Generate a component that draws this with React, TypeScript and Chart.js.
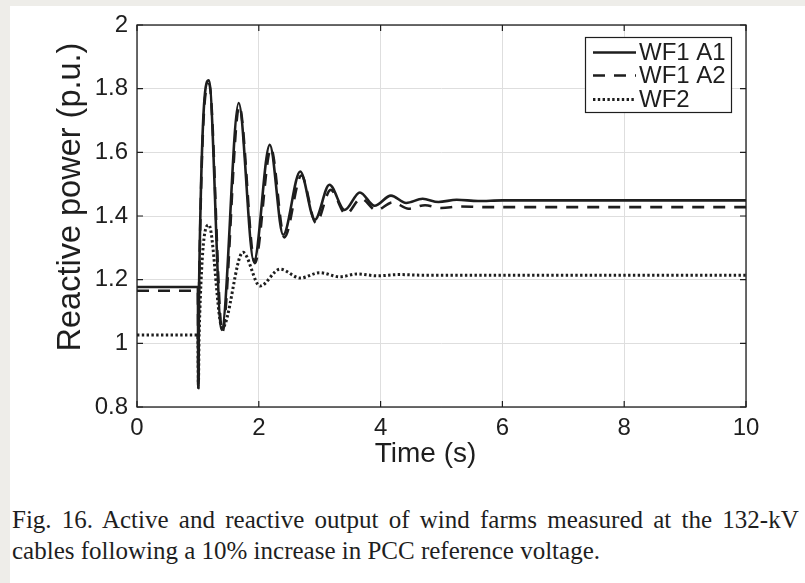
import React, { useEffect, useRef } from "react";
import { Chart, registerables } from "chart.js";

Chart.register(...registerables);

// ---- data ----
const X_TICKS = [0, 2, 4, 6, 8, 10];
const Y_TICKS = [0.8, 1, 1.2, 1.4, 1.6, 1.8, 2];
const Y_TICK_LABELS = ["0.8", "1", "1.2", "1.4", "1.6", "1.8", "2"];

const SERIES_NAMES = ["WF1 A1", "WF1 A2", "WF2"];

const A1_T = [0, 1.0, 1.006, 1.02, 1.18, 1.39, 1.67, 1.92, 2.18, 2.40, 2.68, 2.92, 3.16, 3.41, 3.66, 3.90, 4.17, 4.42, 4.69, 4.95, 5.25, 5.6, 6.0, 10];
const A1_Q = [1.177, 1.177, 0.86, 1.19, 1.826, 1.042, 1.755, 1.257, 1.624, 1.341, 1.540, 1.388, 1.498, 1.419, 1.474, 1.432, 1.464, 1.441, 1.454, 1.444, 1.451, 1.447, 1.449, 1.449];

const A2_T = [0, 1.0, 1.006, 1.02, 1.185, 1.40, 1.68, 1.935, 2.20, 2.42, 2.70, 2.94, 3.18, 3.43, 3.68, 3.93, 4.20, 4.46, 4.73, 5.0, 5.3, 5.7, 10];
const A2_Q = [1.165, 1.165, 0.86, 1.18, 1.815, 1.035, 1.745, 1.252, 1.612, 1.333, 1.527, 1.378, 1.482, 1.406, 1.455, 1.418, 1.443, 1.423, 1.434, 1.425, 1.430, 1.428, 1.428];

const W2_T = [0, 1.0, 1.008, 1.02, 1.18, 1.40, 1.74, 2.02, 2.35, 2.68, 3.0, 3.33, 3.62, 3.95, 4.3, 4.7, 10];
const W2_Q = [1.026, 1.026, 0.87, 1.03, 1.372, 1.048, 1.286, 1.180, 1.233, 1.205, 1.222, 1.209, 1.218, 1.212, 1.216, 1.214, 1.214];

const X_TITLE = "Time (s)";
const Y_TITLE = "Reactive power (p.u.)";
const CAPTION_1 = "Fig. 16. Active and reactive output of wind farms measured at the 132-kV";
const CAPTION_2 = "cables following a 10% increase in PCC reference voltage.";

const INK = "#1e1e1e";
const SANS = "'Liberation Sans', Arial, Helvetica, sans-serif";

const STYLES = [
  { dash: [] as number[], width: 2.6 },
  { dash: [12, 9], width: 2.6 },
  { dash: [2.4, 2.4], width: 3 },
];

const zip = (t: number[], q: number[]) => t.map((x, i) => ({ x, y: q[i] }));

const framePlugin = {
  id: "frame",
  afterDatasetsDraw(chart: any) {
    const { ctx, chartArea: a, scales } = chart;
    ctx.save();
    // border
    ctx.strokeStyle = INK;
    ctx.lineWidth = 1.3;
    ctx.setLineDash([]);
    ctx.strokeRect(a.left, a.top, a.right - a.left, a.bottom - a.top);
    // inward ticks
    const tl = 6;
    ctx.lineWidth = 1.2;
    ctx.beginPath();
    X_TICKS.forEach((v) => {
      const px = scales.x.getPixelForValue(v);
      ctx.moveTo(px, a.bottom);
      ctx.lineTo(px, a.bottom - tl);
      ctx.moveTo(px, a.top);
      ctx.lineTo(px, a.top + tl);
    });
    Y_TICKS.forEach((v) => {
      const py = scales.y.getPixelForValue(v);
      ctx.moveTo(a.left, py);
      ctx.lineTo(a.left + tl, py);
      ctx.moveTo(a.right, py);
      ctx.lineTo(a.right - tl, py);
    });
    ctx.stroke();

    // legend
    const lx = 585.5, ly = 37.5, lw = 146, lh = 75;
    ctx.fillStyle = "#ffffff";
    ctx.fillRect(lx, ly, lw, lh);
    ctx.strokeStyle = INK;
    ctx.lineWidth = 1.2;
    ctx.strokeRect(lx, ly, lw, lh);
    const rows = [52.5, 75.5, 99.5];
    ctx.font = `24px ${SANS}`;
    ctx.textBaseline = "middle";
    ctx.textAlign = "left";
    SERIES_NAMES.forEach((name, i) => {
      ctx.beginPath();
      ctx.setLineDash(STYLES[i].dash);
      ctx.lineWidth = STYLES[i].width;
      ctx.strokeStyle = INK;
      ctx.moveTo(593, rows[i]);
      ctx.lineTo(636, rows[i]);
      ctx.stroke();
      ctx.setLineDash([]);
      ctx.fillStyle = INK;
      ctx.fillText(name, 639, rows[i] + 1);
    });

    // axis titles
    ctx.fillStyle = INK;
    ctx.textAlign = "center";
    ctx.textBaseline = "middle";
    ctx.font = `28px ${SANS}`;
    ctx.fillText(X_TITLE, 425.5, 454);
    ctx.save();
    ctx.translate(71, 197);
    ctx.rotate(-Math.PI / 2);
    ctx.font = `32.5px ${SANS}`;
    ctx.fillText(Y_TITLE, 0, 0);
    ctx.restore();
    ctx.restore();
  },
};

export default function App() {
  const ref = useRef<HTMLCanvasElement | null>(null);

  useEffect(() => {
    if (!ref.current) return;
    const chart = new Chart(ref.current, {
      type: "line",
      data: {
        datasets: [
          { label: SERIES_NAMES[0], data: zip(A1_T, A1_Q), borderColor: INK, borderWidth: STYLES[0].width, borderDash: STYLES[0].dash },
          { label: SERIES_NAMES[1], data: zip(A2_T, A2_Q), borderColor: INK, borderWidth: STYLES[1].width, borderDash: STYLES[1].dash },
          { label: SERIES_NAMES[2], data: zip(W2_T, W2_Q), borderColor: INK, borderWidth: STYLES[2].width, borderDash: STYLES[2].dash },
        ],
      },
      options: {
        animation: false,
        responsive: false,
        maintainAspectRatio: false,
        layout: { padding: { left: 0, top: 25, right: 59, bottom: 0 } },
        elements: {
          point: { radius: 0 },
          line: { cubicInterpolationMode: "monotone", fill: false },
        },
        plugins: { legend: { display: false }, tooltip: { enabled: false }, title: { display: false } },
        scales: {
          x: {
            type: "linear",
            min: 0,
            max: 10,
            afterBuildTicks: (s: any) => {
              s.ticks = X_TICKS.map((v) => ({ value: v }));
            },
            afterFit: (s: any) => {
              s.height = 73;
            },
            grid: { color: "#dedede", lineWidth: 1, drawTicks: false },
            border: { display: false },
            ticks: {
              color: INK,
              font: { family: SANS, size: 24, lineHeight: 1.2 },
              padding: 7,
              maxRotation: 0,
              autoSkip: false,
              callback: (v: any) => String(v),
            },
          },
          y: {
            type: "linear",
            min: 0.8,
            max: 2,
            afterBuildTicks: (s: any) => {
              s.ticks = Y_TICKS.map((v) => ({ value: v }));
            },
            afterFit: (s: any) => {
              s.width = 137;
            },
            grid: { color: "#dedede", lineWidth: 1, drawTicks: false },
            border: { display: false },
            ticks: {
              color: INK,
              font: { family: SANS, size: 24, lineHeight: 1.2 },
              padding: 9,
              autoSkip: false,
              callback: (v: any) => {
                const i = Y_TICKS.findIndex((t) => Math.abs(t - v) < 1e-6);
                return i >= 0 ? Y_TICK_LABELS[i] : "";
              },
            },
          },
        },
      },
      plugins: [framePlugin],
    });
    return () => chart.destroy();
  }, []);

  return (
    <div style={{ position: "fixed", left: 0, top: 0, width: 805, height: 583, background: "#eeede9", overflow: "hidden" }}>
      <div style={{ position: "absolute", left: 10, top: 6, width: 795, height: 577, background: "#ffffff" }} />
      <canvas ref={ref} width={805} height={480} style={{ position: "absolute", left: 0, top: 0, width: 805, height: 480 }} />
      <div
        style={{
          position: "absolute",
          left: 12,
          top: 504,
          width: 793,
          fontFamily: "'Liberation Serif', 'Times New Roman', serif",
          fontSize: 25,
          lineHeight: "31px",
          color: "#1e1e1e",
          whiteSpace: "nowrap",
          overflow: "hidden",
        }}
      >
        <div style={{ wordSpacing: 4 }}>{CAPTION_1}</div>
        <div>{CAPTION_2}</div>
      </div>
    </div>
  );
}
